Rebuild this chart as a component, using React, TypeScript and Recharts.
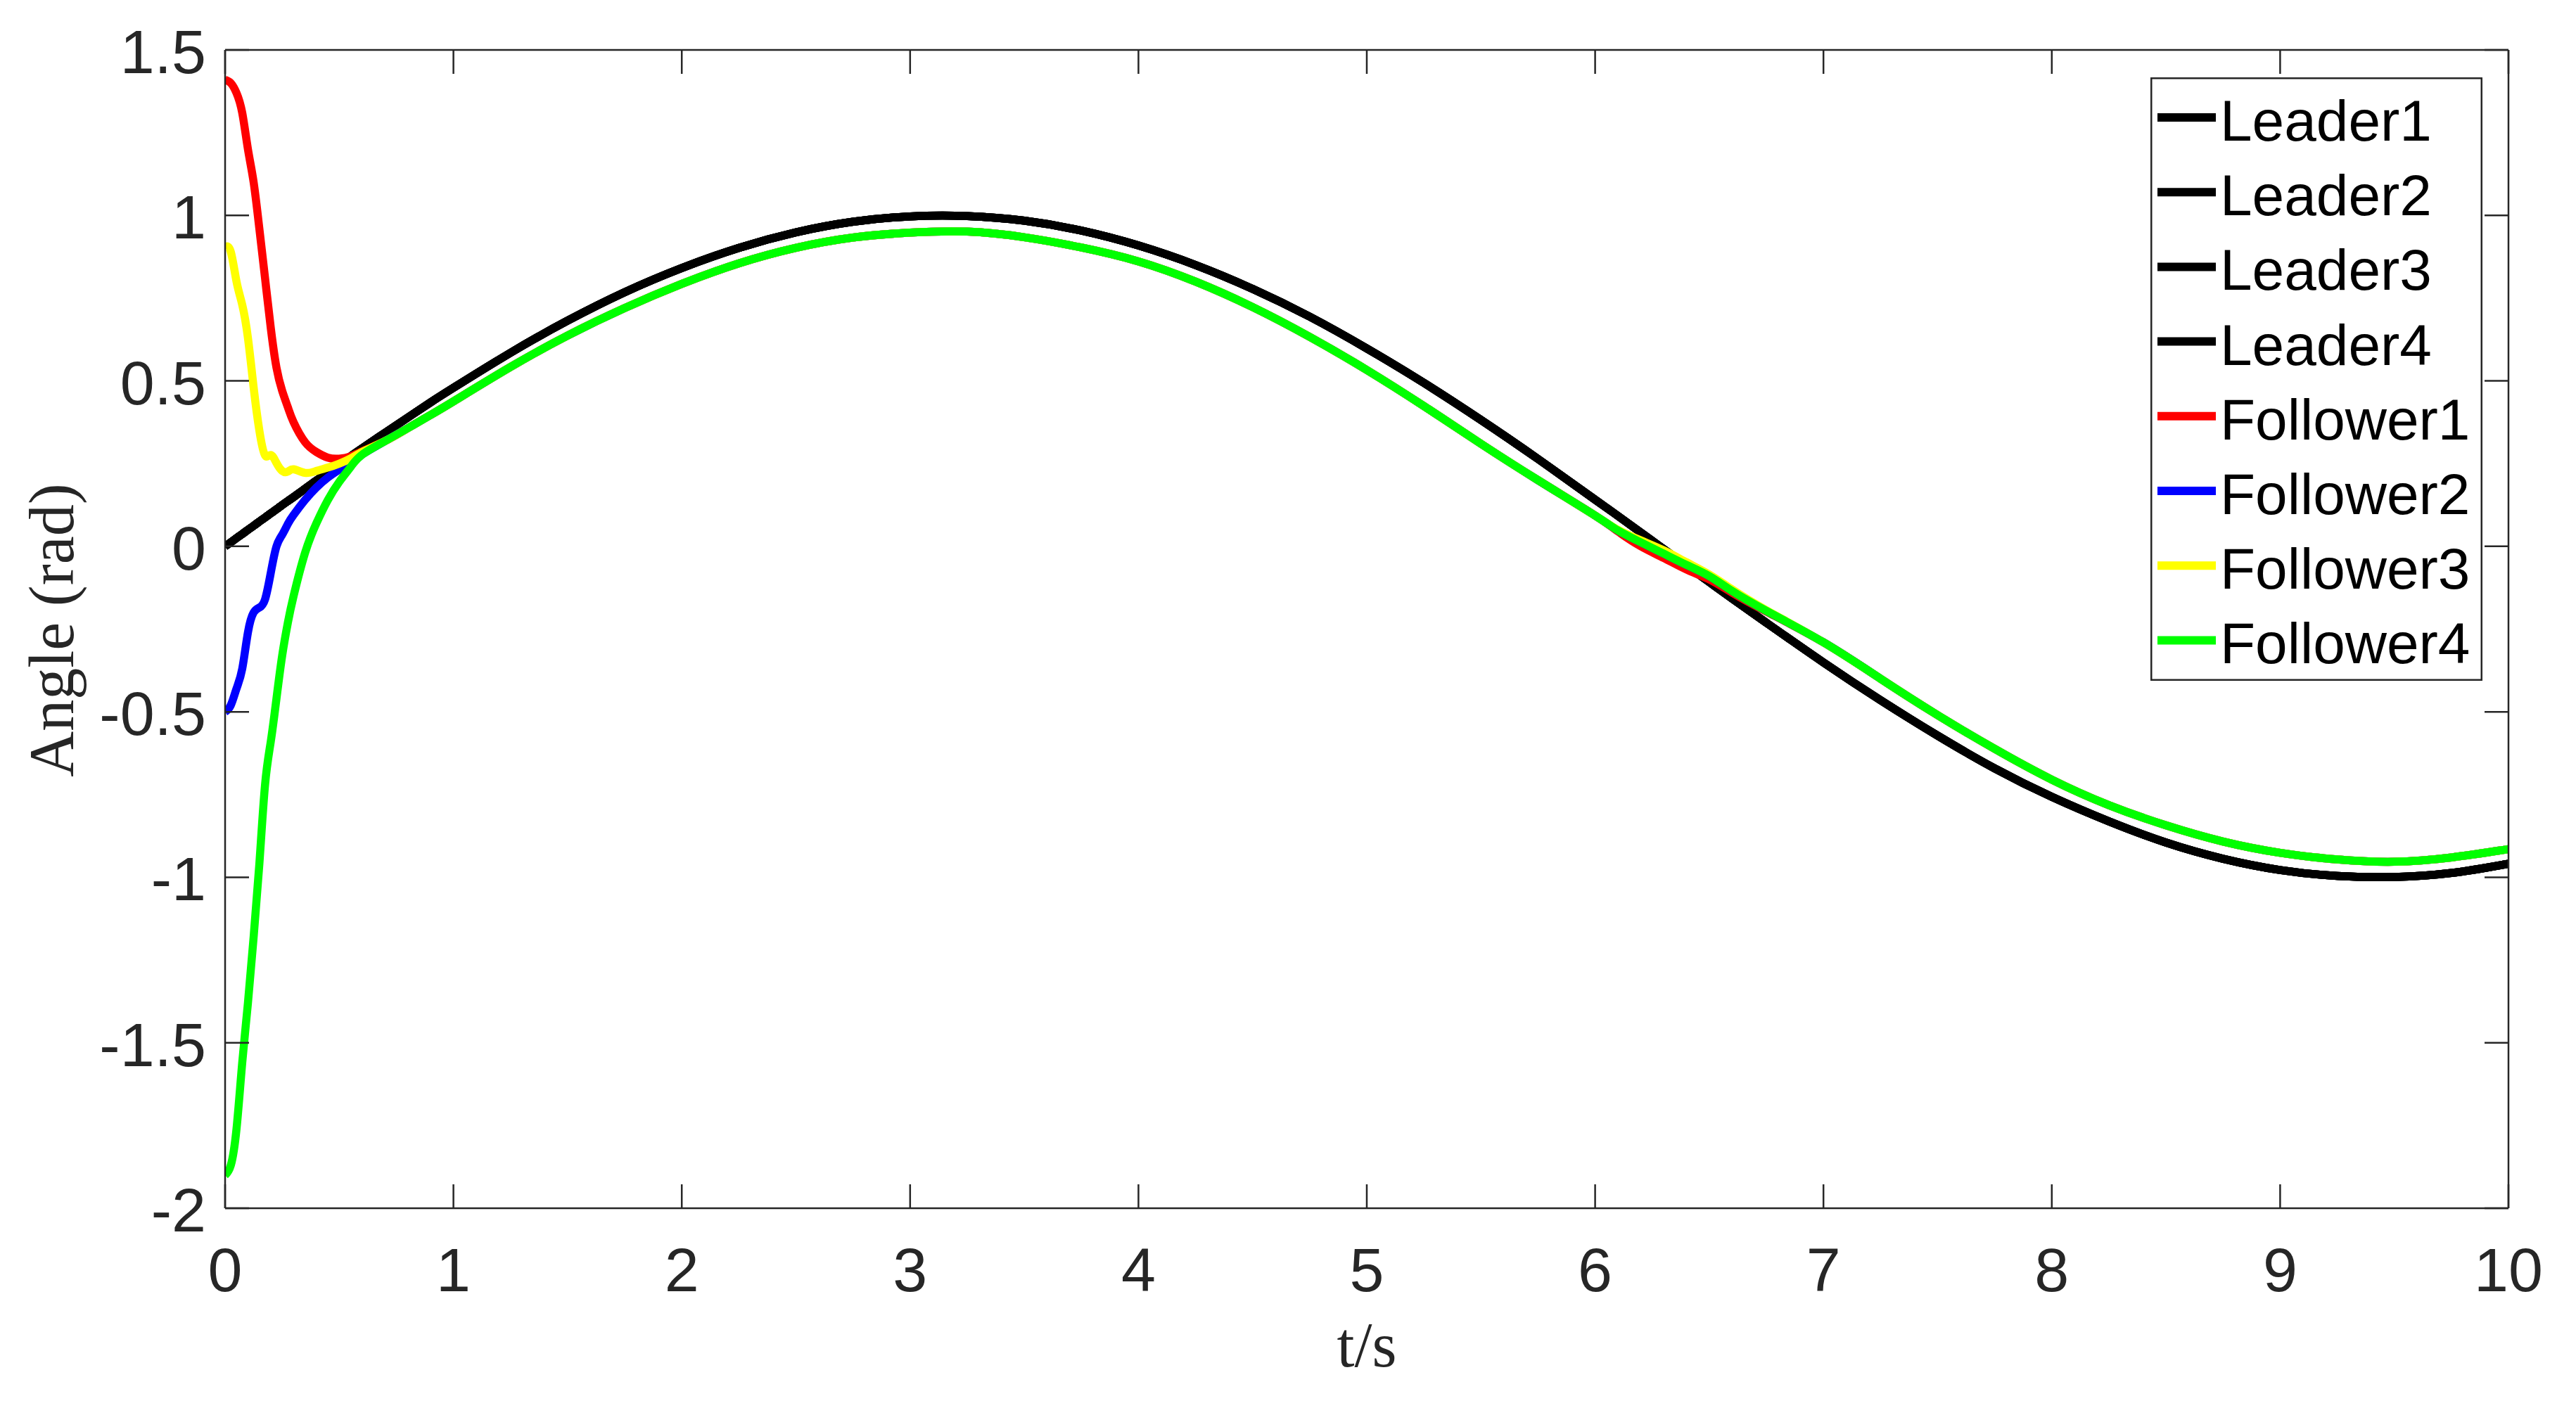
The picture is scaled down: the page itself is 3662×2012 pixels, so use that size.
import { LineChart, Line, XAxis, YAxis, Legend } from "recharts";

// time samples (s), denser during the start-up transient
const TIME = [
  0, 0.025, 0.05, 0.075, 0.1, 0.125, 0.15, 0.175, 0.2, 0.225, 0.25, 0.275, 0.3,
  0.35, 0.4, 0.45, 0.5, 0.55, 0.6,
  0.7, 0.8, 0.9, 1.0,
  1.25, 1.5, 1.75, 2.0, 2.25, 2.5, 2.75, 3.0, 3.25, 3.5, 3.75, 4.0, 4.25, 4.5, 4.75, 5.0, 5.25, 5.5, 5.75, 6.0,
  6.1, 6.2, 6.3, 6.4, 6.5, 6.6,
  6.75,
  7.0, 7.25, 7.5, 7.75, 8.0, 8.25, 8.5, 8.75, 9.0, 9.25, 9.5, 9.75, 10.0,
];

// all four leaders lie on the same curve
const LEADER = [
  0, 0.012, 0.025, 0.037, 0.05, 0.062, 0.075, 0.087, 0.1, 0.112, 0.125, 0.137, 0.149,
  0.174, 0.199, 0.223, 0.247, 0.272, 0.296,
  0.343, 0.389, 0.435, 0.479,
  0.585, 0.682, 0.768, 0.841, 0.902, 0.949, 0.981, 0.997, 0.998, 0.984, 0.954, 0.909, 0.85, 0.778, 0.694, 0.598, 0.494, 0.382, 0.264, 0.141,
  0.092, 0.042, -0.008, -0.058, -0.108, -0.158,
  -0.231,
  -0.351, -0.465, -0.572, -0.671, -0.757, -0.831, -0.895, -0.944, -0.978, -0.996, -0.999, -0.987, -0.959,
];

const FOLLOWER1 = [
  1.41, 1.4, 1.37, 1.31, 1.2, 1.1, 0.96, 0.81, 0.66, 0.54, 0.47, 0.42, 0.375,
  0.315, 0.285, 0.268, 0.265, 0.272, 0.287,
  0.318, 0.357, 0.397, 0.438,
  0.542, 0.637, 0.72, 0.793, 0.855, 0.902, 0.933, 0.948, 0.951, 0.934, 0.903, 0.861, 0.8, 0.723, 0.633, 0.533, 0.424, 0.31, 0.2, 0.093,
  0.045, 0.0, -0.035, -0.07, -0.1, -0.14,
  -0.197,
  -0.29, -0.4, -0.51, -0.612, -0.705, -0.782, -0.843, -0.892, -0.926, -0.946, -0.953, -0.94, -0.915,
];

const FOLLOWER2 = [
  -0.5, -0.48, -0.43, -0.37, -0.26, -0.2, -0.185, -0.16, -0.08, 0.0, 0.035, 0.068, 0.095,
  0.14, 0.178, 0.208, 0.232, 0.255, 0.278,
  0.318, 0.357, 0.397, 0.438,
  0.542, 0.637, 0.72, 0.793, 0.855, 0.902, 0.933, 0.948, 0.951, 0.934, 0.903, 0.861, 0.8, 0.723, 0.633, 0.533, 0.424, 0.31, 0.2, 0.093,
  0.048, 0.012, -0.022, -0.056, -0.09, -0.135,
  -0.195,
  -0.29, -0.4, -0.51, -0.612, -0.705, -0.782, -0.843, -0.892, -0.926, -0.946, -0.953, -0.94, -0.915,
];

const FOLLOWER3 = [
  0.905, 0.89, 0.8, 0.73, 0.63, 0.48, 0.35, 0.275, 0.276, 0.252, 0.228, 0.226, 0.233,
  0.222, 0.228, 0.238, 0.25, 0.266, 0.285,
  0.318, 0.357, 0.397, 0.438,
  0.542, 0.637, 0.72, 0.793, 0.855, 0.902, 0.933, 0.948, 0.951, 0.934, 0.903, 0.861, 0.8, 0.723, 0.633, 0.533, 0.424, 0.31, 0.2, 0.093,
  0.05, 0.018, -0.012, -0.048, -0.085, -0.13,
  -0.193,
  -0.29, -0.4, -0.51, -0.612, -0.705, -0.782, -0.843, -0.892, -0.926, -0.946, -0.953, -0.94, -0.915,
];

const FOLLOWER4 = [
  -1.9, -1.87, -1.76, -1.56, -1.38, -1.18, -0.96, -0.72, -0.59, -0.46, -0.33, -0.23, -0.15,
  -0.02, 0.07, 0.14, 0.195, 0.24, 0.277,
  0.318, 0.357, 0.397, 0.438,
  0.542, 0.637, 0.72, 0.793, 0.855, 0.902, 0.933, 0.948, 0.951, 0.934, 0.903, 0.861, 0.8, 0.723, 0.633, 0.533, 0.424, 0.31, 0.2, 0.093,
  0.048, 0.012, -0.022, -0.056, -0.09, -0.135,
  -0.195,
  -0.29, -0.4, -0.51, -0.612, -0.705, -0.782, -0.843, -0.892, -0.926, -0.946, -0.953, -0.94, -0.915,
];

const X_TICKS = [0, 1, 2, 3, 4, 5, 6, 7, 8, 9, 10];
const Y_TICKS = [-2, -1.5, -1, -0.5, 0, 0.5, 1, 1.5];

const SERIES = [
  { key: "leader1", name: "Leader1", color: "#000000", values: LEADER },
  { key: "leader2", name: "Leader2", color: "#000000", values: LEADER },
  { key: "leader3", name: "Leader3", color: "#000000", values: LEADER },
  { key: "leader4", name: "Leader4", color: "#000000", values: LEADER },
  { key: "follower1", name: "Follower1", color: "#ff0000", values: FOLLOWER1 },
  { key: "follower2", name: "Follower2", color: "#0000ff", values: FOLLOWER2 },
  { key: "follower3", name: "Follower3", color: "#ffff00", values: FOLLOWER3 },
  { key: "follower4", name: "Follower4", color: "#00ff00", values: FOLLOWER4 },
];

const rows = TIME.map((t, i) => {
  const row: Record<string, number> = { t };
  SERIES.forEach((s) => (row[s.key] = s.values[i]));
  return row;
});

const W = 3662;
const H = 2012;
const AXIS = "#262626";
const TICK_LEN = 34;
const SANS = '"Liberation Sans", Arial, sans-serif';
const SERIF = '"Liberation Serif", "Times New Roman", serif';

// matlab-style inward ticks, drawn from the position recharts hands over
function BottomTick({ x, y, payload }: any) {
  return (
    <g>
      <line x1={x} y1={y} x2={x} y2={y - TICK_LEN} stroke={AXIS} strokeWidth={2.5} />
      <text x={x} y={y + 118} textAnchor="middle" fontSize={88} fill={AXIS} fontFamily={SANS}>
        {payload.value}
      </text>
    </g>
  );
}

function TopTick({ x, y }: any) {
  return <line x1={x} y1={y} x2={x} y2={y + TICK_LEN} stroke={AXIS} strokeWidth={2.5} />;
}

function LeftTick({ x, y, payload }: any) {
  return (
    <g>
      <line x1={x} y1={y} x2={x + TICK_LEN} y2={y} stroke={AXIS} strokeWidth={2.5} />
      <text x={x - 27} y={y + 33} textAnchor="end" fontSize={88} fill={AXIS} fontFamily={SANS}>
        {payload.value}
      </text>
    </g>
  );
}

function RightTick({ x, y }: any) {
  return <line x1={x} y1={y} x2={x - TICK_LEN} y2={y} stroke={AXIS} strokeWidth={2.5} />;
}

function LegendBox() {
  return (
    <svg width={472} height={858} style={{ display: "block" }}>
      <rect x={1.25} y={1.25} width={469.5} height={855.5} fill="#ffffff" stroke={AXIS} strokeWidth={2.5} />
      {SERIES.map((s, i) => {
        const cy = 57 + i * 106.2;
        return (
          <g key={s.key}>
            <line x1={10} x2={93} y1={cy} y2={cy} stroke={s.color} strokeWidth={12} />
            <text x={99} y={cy + 33} fontSize={82} fill="#000000" fontFamily={SANS}>
              {s.name}
            </text>
          </g>
        );
      })}
    </svg>
  );
}

export default function App() {
  return (
    <div style={{ position: "relative", width: W, height: H, background: "#ffffff" }}>
      <style>{"body{margin:0}"}</style>
      <LineChart width={W} height={H} data={rows} margin={{ top: 70, right: 95, bottom: 0, left: 0 }}>
        <XAxis
          xAxisId="b"
          dataKey="t"
          type="number"
          domain={[0, 10]}
          ticks={X_TICKS}
          interval={0}
          height={294}
          tickSize={0}
          tickMargin={0}
          tickLine={false}
          axisLine={{ stroke: AXIS, strokeWidth: 2.5 }}
          tick={<BottomTick />}
          allowDataOverflow
        />
        <XAxis
          xAxisId="t"
          orientation="top"
          dataKey="t"
          type="number"
          domain={[0, 10]}
          ticks={X_TICKS}
          interval={0}
          height={1}
          tickSize={0}
          tickMargin={0}
          tickLine={false}
          axisLine={{ stroke: AXIS, strokeWidth: 2.5 }}
          tick={<TopTick />}
          allowDataOverflow
        />
        <YAxis
          yAxisId="l"
          type="number"
          domain={[-2, 1.5]}
          ticks={Y_TICKS}
          interval={0}
          width={320}
          tickSize={0}
          tickMargin={0}
          tickLine={false}
          axisLine={{ stroke: AXIS, strokeWidth: 2.5 }}
          tick={<LeftTick />}
          allowDataOverflow
        />
        <YAxis
          yAxisId="r"
          orientation="right"
          type="number"
          domain={[-2, 1.5]}
          ticks={Y_TICKS}
          interval={0}
          width={1}
          tickSize={0}
          tickMargin={0}
          tickLine={false}
          axisLine={{ stroke: AXIS, strokeWidth: 2.5 }}
          tick={<RightTick />}
          allowDataOverflow
        />
        {SERIES.map((s) => (
          <Line
            key={s.key}
            xAxisId="b"
            yAxisId="l"
            type="natural"
            dataKey={s.key}
            name={s.name}
            stroke={s.color}
            strokeWidth={11.5}
            strokeLinejoin="round"
            dot={false}
            activeDot={false}
            isAnimationActive={false}
          />
        ))}
        <Legend
          layout="vertical"
          align="center"
          verticalAlign="middle"
          wrapperStyle={{ top: 110, left: 3057, width: 472, height: 858 }}
          content={() => <LegendBox />}
        />
      </LineChart>
      <svg
        width={W}
        height={H}
        style={{ position: "absolute", left: 0, top: 0, pointerEvents: "none" }}
      >
        <text x={1943} y={1943} textAnchor="middle" fontSize={90} fill={AXIS} fontFamily={SERIF}>
          t/s
        </text>
        <text
          x={104}
          y={896}
          textAnchor="middle"
          fontSize={90}
          fill={AXIS}
          fontFamily={SERIF}
          transform="rotate(-90 104 896)"
        >
          Angle (rad)
        </text>
      </svg>
    </div>
  );
}
